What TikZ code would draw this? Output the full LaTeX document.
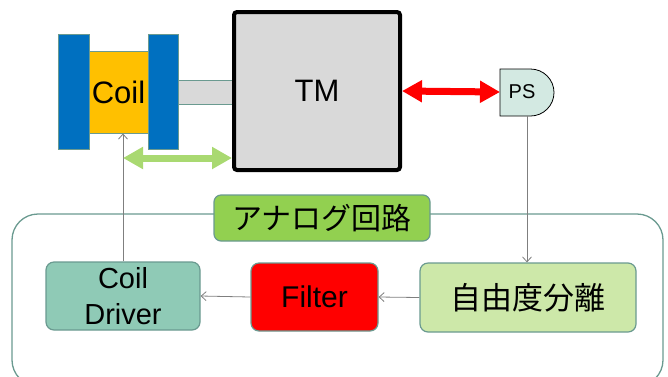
\documentclass[tikz,border=0pt]{standalone}
\usepackage{fontspec}
\setmainfont{Liberation Sans}
\newfontfamily\jpfont{Noto Sans CJK JP}
\usetikzlibrary{arrows.meta}
\definecolor{edgec}{HTML}{6A9A90}
\definecolor{barblue}{HTML}{0070C0}
\definecolor{coilorange}{HTML}{FFC000}
\definecolor{lgray}{HTML}{D9D9D9}
\definecolor{psfill}{HTML}{D3E9E2}
\definecolor{labgreen}{HTML}{92D050}
\definecolor{drvfill}{HTML}{8FCAB6}
\definecolor{doffill}{HTML}{CDE8A9}
\definecolor{greenarrow}{HTML}{A9D971}
\definecolor{thingray}{HTML}{7F7F7F}
\begin{document}
\begin{tikzpicture}[x=1pt,y=-1pt,
  part/.style={draw=edgec, line width=1pt, inner sep=0pt},
  blockbox/.style={draw=edgec, line width=1.2pt, rounded corners=8pt, inner sep=0pt, align=center,
    font=\fontsize{30}{36}\selectfont},
  thinarrow/.style={draw=thingray, line width=0.8pt, -{Straight Barb[length=5pt,width=9pt]}},
  fatarrow/.style={line width=7pt, {Triangle[length=20pt,width=21pt]}-{Triangle[length=20pt,width=21pt]}}]
\useasboundingbox (0,0) rectangle (668,376);
\clip (0,0) rectangle (668,376);
% group frame
\node[draw=edgec, line width=1.3pt, rounded corners=26pt, minimum width=651pt, minimum height=172pt, inner sep=0pt] (grp) at (337.5,300) {};
% coil assembly
\node[part, fill=barblue, minimum width=31pt, minimum height=115pt] (barL) at (73.5,91.5) {};
\node[part, fill=barblue, minimum width=30pt, minimum height=115pt] (barR) at (163,91.5) {};
\node[part, fill=coilorange, minimum width=59pt, minimum height=82pt, font=\fontsize{31}{37}\selectfont] (coil) at (118.5,92) {Coil};
\node[part, fill=lgray, minimum width=54pt, minimum height=24pt] (rod) at (205,92) {};
% TM
\node[draw=black, line width=4pt, fill=lgray, rounded corners=3pt, minimum width=166pt, minimum height=158pt, inner sep=0pt, font=\fontsize{31}{37}\selectfont] (tm) at (317,91) {TM};
% PS
\draw[draw=black, line width=0.8pt, fill=psfill] (500,69) -- (530.5,69) arc[start angle=90, end angle=-90, radius=23.5pt] -- (500,116) -- cycle;
\node[font=\fontsize{20}{24}\selectfont, inner sep=0pt] (ps) at (522,92) {PS};
\coordinate (psL) at (500,92);
\coordinate (psB) at (527,116);
% label
\node[draw=edgec, line width=1.2pt, fill=labgreen, rounded corners=7pt, minimum width=216pt, minimum height=46pt, inner sep=0pt, font=\jpfont\fontsize{30}{36}\selectfont] (lab) at (322,218) {アナログ回路};
% blocks
\node[blockbox, fill=drvfill, minimum width=154pt, minimum height=68pt, font=\fontsize{29}{36}\selectfont] (drv) at (123,296) {Coil\\Driver};
\node[blockbox, fill=red, minimum width=127pt, minimum height=68pt] (flt) at (314.5,297) {Filter};
\node[blockbox, fill=doffill, minimum width=216pt, minimum height=69pt, font=\jpfont\fontsize{31}{37}\selectfont] (dof) at (528,297.5) {自由度分離};
% connectors
\draw[thinarrow] (psB) -- (psB |- dof.north);
\draw[thinarrow] (dof.west) -- (flt.east);
\draw[thinarrow] (flt.west) -- (drv.east);
\draw[thinarrow] (drv.north) -- (drv.north |- coil.south);
\draw[fatarrow, red] (tm.east) -- (psL);
\coordinate (gL) at (123,158);
\draw[fatarrow, greenarrow] (gL) -- (gL -| tm.west);
\end{tikzpicture}
\end{document}
